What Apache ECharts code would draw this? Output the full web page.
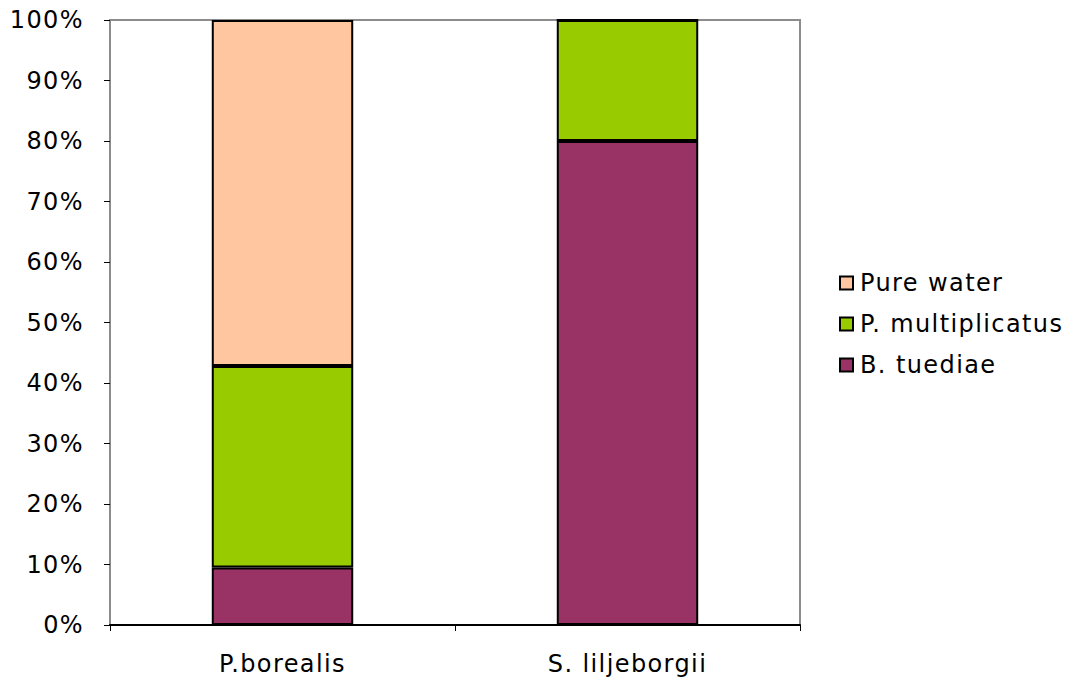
<!DOCTYPE html>
<html>
<head>
<meta charset="utf-8">
<script src="https://cdn.jsdelivr.net/npm/echarts@6/dist/echarts.min.js"></script>
<style>
  html, body { margin: 0; padding: 0; background: #fff; }
  #chart { width: 1071px; height: 680px; }
  /* slightly airy lettering for all chart text */
  #chart svg text { letter-spacing: 1.4px; }
</style>
</head>
<body>
<div id="chart"></div>
<script>
// Share of each food source per predator (percent)
const categories = ['P.borealis', 'S. liljeborgii'];
const bTuediae = [9.5, 80];
const pMultiplicatus = [33.3, 20];
const pureWater = [57.2, 0];
const legendOrder = ['Pure water', 'P. multiplicatus', 'B. tuediae'];

const FONT = 'DejaVu Sans';

function barSeries(name, data, color) {
  return {
    name: name,
    type: 'bar',
    stack: 'total',
    data: data,
    barWidth: '41%',
    itemStyle: { color: color, borderColor: '#000', borderWidth: 2 },
    emphasis: { disabled: true }
  };
}

const chart = echarts.init(document.getElementById('chart'), null, { renderer: 'svg' });
chart.setOption({
  animation: false,
  backgroundColor: '#fff',
  grid: {
    left: 110, right: 271, top: 20, bottom: 55,
    show: true, borderColor: '#8c8c8c', borderWidth: 2, backgroundColor: 'transparent'
  },
  legend: {
    orient: 'vertical',
    left: 834,
    top: 266,
    data: legendOrder,
    itemWidth: 13,
    itemHeight: 13,
    itemGap: 17,
    icon: 'rect',
    itemStyle: { borderColor: '#000', borderWidth: 2 },
    textStyle: { fontFamily: FONT, fontSize: 24, color: '#000', padding: [0, 0, 0, 2] }
  },
  xAxis: {
    type: 'category',
    data: categories,
    axisLine: { lineStyle: { color: '#000', width: 2 } },
    axisTick: { show: true, length: 6, lineStyle: { color: '#000', width: 1 } },
    axisLabel: { margin: 27, fontFamily: FONT, fontSize: 24, color: '#000' }
  },
  yAxis: {
    type: 'value',
    min: 0,
    max: 100,
    interval: 10,
    axisLine: { show: true, lineStyle: { color: '#8c8c8c', width: 2 } },
    axisTick: { show: true, length: 6, lineStyle: { color: '#000', width: 1 } },
    splitLine: { show: false },
    axisLabel: { margin: 26, formatter: '{value}%', fontFamily: FONT, fontSize: 24, color: '#000' }
  },
  series: [
    barSeries('B. tuediae', bTuediae, '#993366'),
    barSeries('P. multiplicatus', pMultiplicatus, '#99cc00'),
    barSeries('Pure water', pureWater, '#ffc69f')
  ]
});
</script>
</body>
</html>
